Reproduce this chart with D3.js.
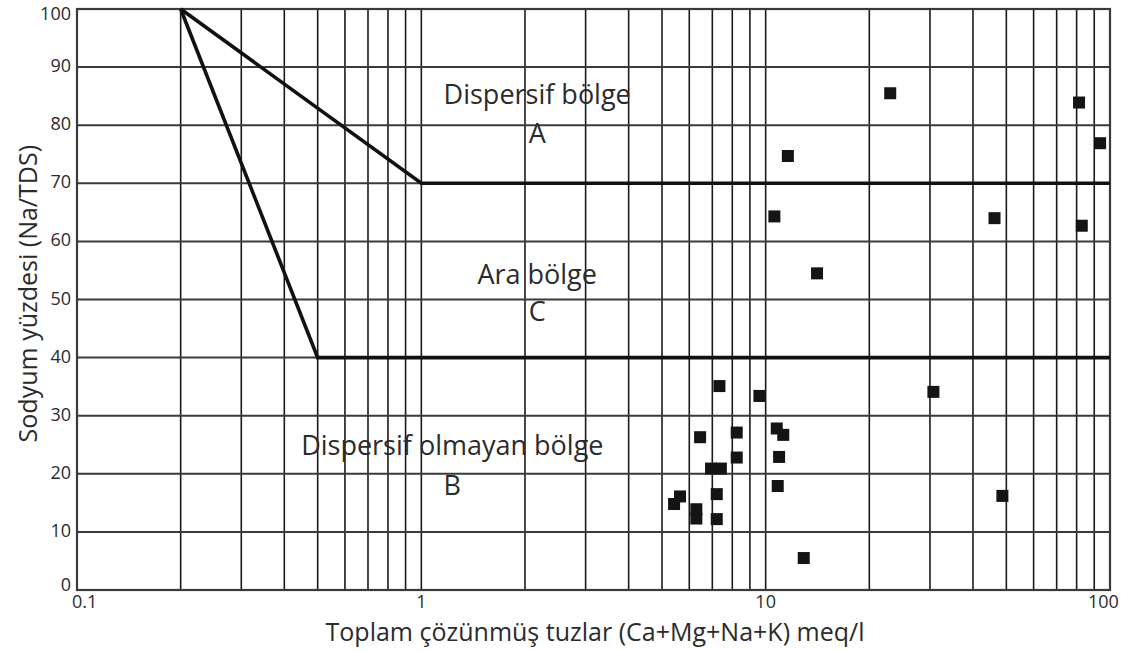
<!DOCTYPE html>
<html>
<head>
<meta charset="utf-8">
<script src="https://cdn.jsdelivr.net/npm/d3@7"></script>
<style>
  body { margin: 0; background: #fff; }
  svg text { font-family: "Open Sans", sans-serif; fill: #2b2b2b; }
</style>
</head>
<body>
<svg id="chart" width="1132" height="651"></svg>
<script>
// Sodium percentage vs total dissolved salts (log scale)
const xTicks = [0.1, 1, 10, 100];
const yTicks = [0, 10, 20, 30, 40, 50, 60, 70, 80, 90, 100];

// zone boundaries: [tds, na%]
const upperBoundary = [[0.2, 100], [1, 70], [100, 70]];
const lowerBoundary = [[0.2, 100], [0.5, 40], [100, 40]];

// zone labels
const zoneTitles = ["Dispersif bölge", "Ara bölge", "Dispersif olmayan bölge"];
const zoneLetters = ["A", "C", "B"];
const zoneX = [2.17, 2.17, 1.23];
const zoneTitleY = [83.6, 52.7, 23.3];
const zoneLetterY = [76.9, 46.3, 16.4];

// samples
const tds = [23.0, 81.3, 93.6, 11.6, 10.6, 14.1, 46.2, 82.8, 30.7, 48.7,
             7.34, 9.59, 6.45, 8.24, 10.77, 11.25, 8.24, 10.94, 6.94, 7.41,
             7.21, 10.84, 5.64, 5.42, 6.29, 6.29, 7.21, 12.9];
const naPct = [85.5, 83.9, 76.9, 74.7, 64.3, 54.5, 64.0, 62.7, 34.1, 16.2,
               35.1, 33.4, 26.3, 27.1, 27.8, 26.7, 22.8, 22.9, 20.9, 20.9,
               16.5, 17.9, 16.1, 14.8, 13.9, 12.3, 12.2, 5.5];

const svg = d3.select("#chart");
const margin = { left: 77, top: 9, right: 22, bottom: 61 };
const width = 1132 - margin.left - margin.right;
const height = 651 - margin.top - margin.bottom;

const x = d3.scaleLog().domain([0.1, 100]).range([0, width]);
const y = d3.scaleLinear().domain([0, 100]).range([height, 0]);

svg.append("defs").append("clipPath").attr("id", "pageclip")
  .append("rect").attr("x", 0).attr("y", 0).attr("width", 1120).attr("height", 651);

const g = svg.append("g").attr("transform", `translate(${margin.left},${margin.top})`);

// vertical grid at every log step
const vGrid = d3.range(-1, 2).flatMap(e => d3.range(1, 10).map(m => m * Math.pow(10, e)))
  .filter(v => v > 0.1 && v < 100);
g.append("g")
  .selectAll("line")
  .data(vGrid)
  .join("line")
  .attr("x1", d => x(d)).attr("x2", d => x(d))
  .attr("y1", 0).attr("y2", height)
  .attr("stroke", "#1a1a1a")
  .attr("stroke-width", 1.6);

g.append("g")
  .selectAll("line")
  .data(yTicks.filter(d => d > 0 && d < 100))
  .join("line")
  .attr("x1", 0).attr("x2", width)
  .attr("y1", d => y(d)).attr("y2", d => y(d))
  .attr("stroke", "#3a3a3a")
  .attr("stroke-width", 2);

g.append("rect")
  .attr("width", width).attr("height", height)
  .attr("fill", "none")
  .attr("stroke", "#3a3a3a")
  .attr("stroke-width", 2.2);

// boundaries
const line = d3.line().x(d => x(d[0])).y(d => y(d[1]));
[upperBoundary, lowerBoundary].forEach(b => {
  g.append("path")
    .attr("d", line(b))
    .attr("fill", "none")
    .attr("stroke", "#111")
    .attr("stroke-width", 3.6)
    .attr("stroke-linejoin", "miter");
});

// zone labels
g.selectAll("text.zone-title")
  .data(zoneTitles)
  .join("text")
  .attr("class", "zone-title")
  .attr("x", (d, i) => x(zoneX[i]))
  .attr("y", (d, i) => y(zoneTitleY[i]))
  .attr("text-anchor", "middle")
  .style("font-size", "27px")
  .text(d => d);

g.selectAll("text.zone-letter")
  .data(zoneLetters)
  .join("text")
  .attr("class", "zone-letter")
  .attr("x", (d, i) => x(zoneX[i]))
  .attr("y", (d, i) => y(zoneLetterY[i]))
  .attr("text-anchor", "middle")
  .style("font-size", "27px")
  .text(d => d);

// samples
const size = 12;
g.selectAll("rect.sample")
  .data(tds.map((t, i) => ({ t, n: naPct[i] })))
  .join("rect")
  .attr("class", "sample")
  .attr("x", d => x(d.t) - size / 2)
  .attr("y", d => y(d.n) - size / 2)
  .attr("width", size).attr("height", size)
  .attr("fill", "#141414");

// y tick labels
g.selectAll("text.ytick")
  .data(yTicks)
  .join("text")
  .attr("class", "ytick")
  .attr("x", -6)
  .attr("y", d => y(d) + (d === 100 ? 11 : d === 0 ? 1 : 5))
  .attr("text-anchor", "end")
  .style("font-size", "18px")
  .text(d => d);

// x tick labels (last one runs off the picture edge)
g.append("g").attr("clip-path", "url(#pageclip)")
  .attr("transform", `translate(${-margin.left},${-margin.top})`)
  .selectAll("text.xtick")
  .data(xTicks)
  .join("text")
  .attr("class", "xtick")
  .attr("x", (d, i) => margin.left + x(d) + (i === 0 ? -5 : i === xTicks.length - 1 ? -22 : 0))
  .attr("y", margin.top + height + 18)
  .attr("text-anchor", (d, i) => i === 0 || i === xTicks.length - 1 ? "start" : "middle")
  .style("font-size", "18px")
  .text(d => d);

// axis titles
svg.append("text")
  .attr("transform", `translate(37,${margin.top + y(51)}) rotate(-90)`)
  .attr("text-anchor", "middle")
  .style("font-size", "25px")
  .text("Sodyum yüzdesi (Na/TDS)");

svg.append("text")
  .attr("x", 595)
  .attr("y", 641)
  .attr("text-anchor", "middle")
  .style("font-size", "25px")
  .text("Toplam çözünmüş tuzlar (Ca+Mg+Na+K) meq/l");
</script>
</body>
</html>
